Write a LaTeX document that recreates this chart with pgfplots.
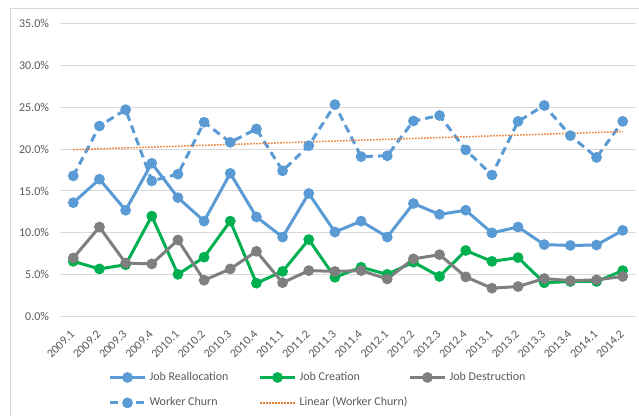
\documentclass[border=0pt]{standalone}
\usepackage{fontspec}
\setmainfont{Carlito}
\usepackage{pgfplots}
\pgfplotsset{compat=1.18}
\usepackage{pgfplotstable}
\definecolor{jr}{HTML}{5B9BD5}
\definecolor{jc}{HTML}{00B050}
\definecolor{jd}{HTML}{7F7F7F}
\definecolor{tr}{HTML}{ED7D31}
\definecolor{gridc}{HTML}{D9D9D9}
\definecolor{txt}{HTML}{595959}

\pgfplotstableread{
i jr jc jd wc
0 13.6 6.6 7.0 16.8
1 16.4 5.7 10.7 22.75
2 12.7 6.2 6.4 24.7
3 18.3 12.0 6.3 16.2
4 14.2 5.05 9.15 17.0
5 11.4 7.1 4.35 23.2
6 17.1 11.4 5.7 20.8
7 11.9 4.0 7.8 22.4
8 9.5 5.4 4.05 17.4
9 14.7 9.2 5.5 20.4
10 10.1 4.7 5.4 25.3
11 11.4 5.9 5.5 19.1
12 9.5 5.05 4.5 19.2
13 13.5 6.5 6.9 23.35
14 12.2 4.8 7.4 24.0
15 12.7 7.9 4.75 19.9
16 10.0 6.6 3.4 16.9
17 10.7 7.05 3.6 23.3
18 8.6 4.05 4.55 25.2
19 8.5 4.2 4.3 21.6
20 8.55 4.2 4.4 19.0
21 10.3 5.5 4.8 23.3
}\data

\pgfplotstableread{
i tr
0 19.93
21 22.08
}\trend

\begin{document}
\begin{tikzpicture}
\useasboundingbox (-60.2pt,-98.3pt) rectangle (578.8pt,316.7pt);
\draw[gridc, line width=1pt] (-49.7pt,-110pt) -- (-49.7pt,308.2pt) -- (600pt,308.2pt);
\begin{axis}[
  at={(0pt,0pt)}, anchor=south west,
  scale only axis, width=575.6pt, height=293.4pt,
  xmin=-0.5, xmax=21.5, ymin=0, ymax=35,
  ytick={0,5,...,35},
  yticklabels={0.0\%,5.0\%,10.0\%,15.0\%,20.0\%,25.0\%,30.0\%,35.0\%},
  xtick={0,...,21},
  xticklabels={2009.1,2009.2,2009.3,2009.4,2010.1,2010.2,2010.3,2010.4,2011.1,2011.2,2011.3,2011.4,2012.1,2012.2,2012.3,2012.4,2013.1,2013.2,2013.3,2013.4,2014.1,2014.2},
  axis line style={draw=none},
  major tick length=0pt,
  tick style={draw=none},
  ymajorgrids,
  grid style={gridc, line width=1pt},
  /pgf/number format/assume math mode=true,
  tick label style={font=\fontsize{12}{14}\selectfont, text=txt, inner sep=0pt},
  yticklabel style={anchor=east, xshift=-11pt},
  xticklabel style={xshift=-0.7pt, yshift=-15.5pt, rotate=45, anchor=east},
  legend columns=3,
  legend style={draw=none, fill=none, at={(0.0836,-0.186)}, anchor=north west,
    inner sep=0pt, font=\fontsize{12}{14}\selectfont, text=txt,
    nodes={inner sep=0pt, text height=9pt, text depth=3pt},
    row sep=13.4pt,
    /tikz/every odd column/.append style={column sep=3pt}},
  legend image code/.code={\draw[mark repeat=2,mark phase=2,#1] plot coordinates {(0pt,0pt) (17.5pt,0pt) (35pt,0pt)};},
  every axis plot/.append style={line width=3pt, mark=*, mark size=3.8pt},
]
\addplot[jr, mark options={solid, fill=jr, draw=jr}] table[x=i, y=jr] {\data};
\addlegendentry{\makebox[109pt][l]{Job Reallocation}}
\addplot[jc, mark options={solid, fill=jc, draw=jc}] table[x=i, y=jc] {\data};
\addlegendentry{\makebox[109pt][l]{Job Creation}}
\addplot[jd, mark options={solid, fill=jd, draw=jd}] table[x=i, y=jd] {\data};
\addlegendentry{\makebox[109pt][l]{Job Destruction}}
\addplot[jr, dash pattern=on 8pt off 5pt, mark options={solid, fill=jr, draw=jr}] table[x=i, y=wc] {\data};
\addlegendentry{\makebox[109pt][l]{Worker Churn}}
\addplot[tr, line width=1.5pt, dash pattern=on 1.5pt off 1.5pt, mark=none] table[x=i, y=tr] {\trend};
\addlegendentry{\makebox[109pt][l]{Linear (Worker Churn)}}
\end{axis}
\end{tikzpicture}
\end{document}
